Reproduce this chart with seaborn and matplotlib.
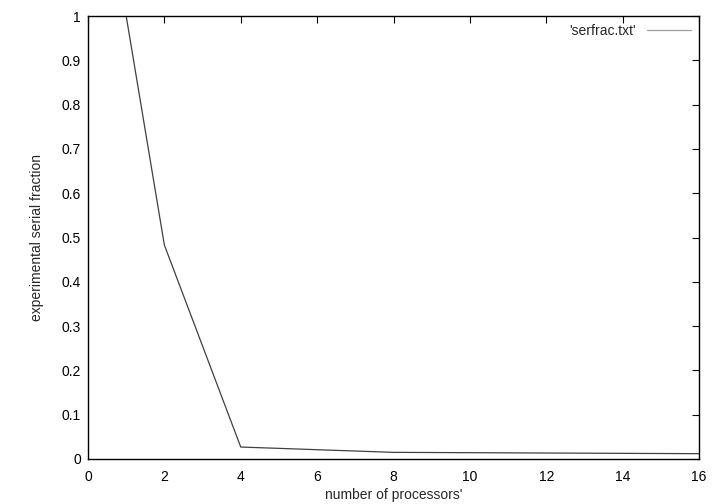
import matplotlib
matplotlib.use("Agg")
import matplotlib.pyplot as plt
import seaborn as sns
import pandas as pd

processors = [1, 2, 4, 8, 16]
serial_fraction = [1.0, 0.483, 0.027, 0.015, 0.012]
x_ticks = [0, 2, 4, 6, 8, 10, 12, 14, 16]
y_ticks = [0, 0.1, 0.2, 0.3, 0.4, 0.5, 0.6, 0.7, 0.8, 0.9, 1]
y_tick_labels = ["0", "0.1", "0.2", "0.3", "0.4", "0.5", "0.6", "0.7", "0.8", "0.9", "1"]

sns.set_style("white")
plt.rcParams['font.family'] = ['Liberation Sans', 'DejaVu Sans']

df = pd.DataFrame({"p": processors, "f": serial_fraction})

fig = plt.figure(figsize=(7.2, 5.04), dpi=100)
ax = fig.add_axes([88/720, 1-459/504, (699-88)/720, (459-16)/504])
sns.lineplot(data=df, x="p", y="f", ax=ax, color="#404040", linewidth=0.9,
             label="'serfrac.txt'")
ax.set_xlim(0, 16)
ax.set_ylim(0, 1)
ax.set_xticks(x_ticks)
ax.set_xticklabels([str(t) for t in x_ticks])
ax.set_yticks(y_ticks)
ax.set_yticklabels(y_tick_labels)
ax.tick_params(direction="in", length=5, width=0.8, top=True, right=True,
               labelsize=10, colors="black", pad=5)
ax.tick_params(axis="x", pad=8)
for s in ax.spines.values():
    s.set_color("black")
    s.set_linewidth(1.0)
ax.set_xlabel("number of processors'", fontsize=10, labelpad=3)
ax.set_ylabel("experimental serial fraction", fontsize=10, labelpad=13)
leg = ax.legend(loc="upper right", frameon=False, fontsize=10,
                handlelength=3.2, borderaxespad=0.15, markerfirst=False)
for h in leg.get_lines():
    h.set_color("#a0a0a0")
fig.savefig("out.png", dpi=100)
